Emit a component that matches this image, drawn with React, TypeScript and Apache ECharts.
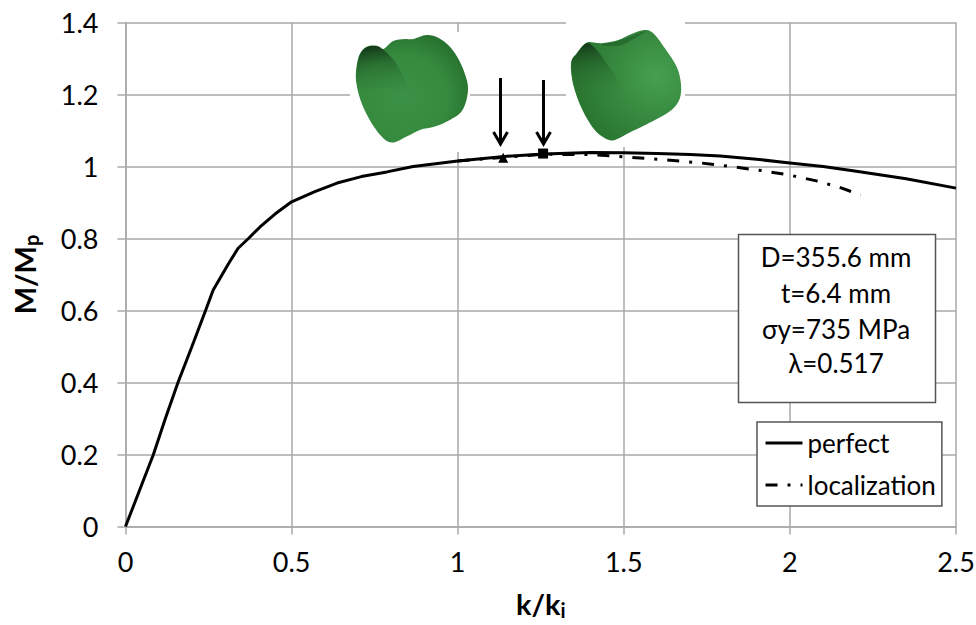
import React, { useEffect, useRef } from "react";
import * as echarts from "echarts";

const perfectX = [0, 0.04, 0.084, 0.12, 0.158, 0.2, 0.241, 0.264, 0.31, 0.339, 0.37, 0.405, 0.45, 0.5, 0.57, 0.637, 0.71, 0.787, 0.866, 1.0, 1.14, 1.26, 1.4, 1.5, 1.6, 1.7, 1.79, 1.9, 2.0, 2.1, 2.2, 2.35, 2.5];
const perfectY = [0, 0.095, 0.2, 0.3, 0.4, 0.5, 0.6, 0.657, 0.73, 0.773, 0.8, 0.832, 0.868, 0.902, 0.93, 0.954, 0.972, 0.985, 1.0, 1.015, 1.028, 1.035, 1.039, 1.038, 1.036, 1.033, 1.029, 1.02, 1.01, 1.0, 0.987, 0.966, 0.94];
const localizationX = [1.0, 1.14, 1.26, 1.4, 1.5, 1.62, 1.73, 1.83, 1.92, 2.0, 2.08, 2.15, 2.213];
const localizationY = [1.015, 1.026, 1.034, 1.033, 1.027, 1.019, 1.01, 0.999, 0.988, 0.976, 0.96, 0.942, 0.921];
const triangleMark = [1.137, 1.024];
const squareMark = [1.257, 1.036];
const infoLines = ["D=355.6 mm", "t=6.4 mm", "σy=735 MPa", "λ=0.517"];
const xTicks = { min: 0, max: 2.5, interval: 0.5 };
const yTicks = { min: 0, max: 1.4, interval: 0.2 };

const FONT = "Lato, Carlito, 'Open Sans', sans-serif";
const GRID_COLOR = "#a9a9a9";
const DASH = [12, 10, 3, 10];

function smooth(points: number[][]): string {
  const n = points.length;
  let d = `M${points[0][0]} ${points[0][1]}`;
  for (let i = 0; i < n; i++) {
    const p0 = points[(i - 1 + n) % n];
    const p1 = points[i];
    const p2 = points[(i + 1) % n];
    const p3 = points[(i + 2) % n];
    const c1x = p1[0] + (p2[0] - p0[0]) / 6;
    const c1y = p1[1] + (p2[1] - p0[1]) / 6;
    const c2x = p2[0] - (p3[0] - p1[0]) / 6;
    const c2y = p2[1] - (p3[1] - p1[1]) / 6;
    d += `C${c1x} ${c1y} ${c2x} ${c2y} ${p2[0]} ${p2[1]}`;
  }
  return d + "Z";
}

const leftBody = [[18, 140], [28, 90], [50, 65], [80, 62], [100, 72], [130, 48], [165, 42], [190, 42], [230, 30], [265, 38], [300, 65], [330, 110], [352, 170], [352, 215], [335, 260], [300, 285], [255, 305], [210, 315], [170, 335], [130, 353], [100, 340], [65, 295], [35, 235], [20, 180]];
const leftDark = [[20, 140], [29, 91], [50, 67], [80, 64], [100, 74], [135, 110], [165, 165], [180, 210], [110, 190], [60, 195], [25, 190]];
const rightBody = [[18, 130], [35, 100], [65, 68], [110, 70], [160, 60], [205, 40], [240, 30], [265, 40], [300, 85], [335, 140], [348, 190], [345, 235], [320, 270], [270, 300], [200, 335], [150, 360], [120, 355], [85, 325], [50, 265], [25, 195]];
const rightDark = [[20, 128], [36, 101], [65, 70], [90, 85], [125, 130], [165, 190], [185, 230], [110, 215], [60, 215], [28, 205]];
const rightFold = [[110, 72], [160, 62], [240, 33], [210, 55], [170, 75], [130, 78]];

echarts.graphic.registerShape("leftBody", echarts.graphic.extendPath(smooth(leftBody), {}));
echarts.graphic.registerShape("leftDark", echarts.graphic.extendPath(smooth(leftDark), {}));
echarts.graphic.registerShape("rightBody", echarts.graphic.extendPath(smooth(rightBody), {}));
echarts.graphic.registerShape("rightDark", echarts.graphic.extendPath(smooth(rightDark), {}));
echarts.graphic.registerShape("rightFold", echarts.graphic.extendPath(smooth(rightFold), {}));

const leftFill = {
  type: "radial", x: 0.42, y: 0.58, r: 0.62,
  colorStops: [
    { offset: 0, color: "#3b9145" },
    { offset: 0.65, color: "#358a3e" },
    { offset: 1, color: "#27722f" },
  ],
};
const rightFill = {
  type: "radial", x: 0.78, y: 0.42, r: 0.75,
  colorStops: [
    { offset: 0, color: "#46a050" },
    { offset: 0.5, color: "#378a3f" },
    { offset: 1, color: "#29752f" },
  ],
};
const darkFill = {
  type: "linear", x: 0.4, y: 0, x2: 0.5, y2: 1,
  colorStops: [
    { offset: 0, color: "rgba(18,50,22,0.9)" },
    { offset: 0.35, color: "rgba(30,85,36,0.5)" },
    { offset: 1, color: "rgba(47,124,55,0)" },
  ],
};
const foldFill = "rgba(30,90,38,0.55)";

function shell(type: string, x: number, y: number, fill: any) {
  return { type, x, y, scaleX: 1 / 3, scaleY: 1 / 3, z: 6, silent: true, style: { fill } };
}
function arrow(x: number, y0: number, y1: number) {
  const stroke = { stroke: "#000", lineWidth: 3, fill: "none" as const };
  return [
    { type: "line", z: 6, silent: true, shape: { x1: x, y1: y0, x2: x, y2: y1 }, style: stroke },
    { type: "polyline", z: 6, silent: true, shape: { points: [[x - 7, y1 - 12], [x, y1], [x + 7, y1 - 12]] }, style: stroke },
  ];
}

export default function App() {
  const ref = useRef<HTMLDivElement>(null);
  useEffect(() => {
    const chart = echarts.init(ref.current!, undefined, { renderer: "svg" });
    const axisCommon = {
      type: "value",
      nameLocation: "middle",
      axisLine: { show: true, onZero: false, lineStyle: { color: GRID_COLOR, width: 1.5 } },
      axisTick: { show: true, length: 8, lineStyle: { color: GRID_COLOR, width: 1.5 } },
      splitLine: { show: true, lineStyle: { color: GRID_COLOR, width: 1.5 } },
      axisLabel: { color: "#000", fontFamily: FONT, fontSize: 27 },
    };
    const nameRich = {
      a: { fontFamily: FONT, fontWeight: "bold", fontSize: 29, color: "#000", lineHeight: 36 },
      b: { fontFamily: FONT, fontWeight: "bold", fontSize: 20, color: "#000", lineHeight: 36, padding: [12, 0, 0, 0] },
    };
    chart.setOption({
      animation: false,
      backgroundColor: "#fff",
      grid: { left: 125.5, right: 20, top: 22.5, height: 504, containLabel: false, outerBoundsMode: "none" },
      xAxis: {
        ...axisCommon, ...xTicks, name: "{a|k/k}{b|i}", nameGap: 59,
        nameTextStyle: { rich: nameRich }, axisLabel: { ...axisCommon.axisLabel, margin: 21 },
      },
      yAxis: {
        ...axisCommon, ...yTicks, name: "{a|M/M}{b|p}", nameGap: 83,
        nameTextStyle: { rich: nameRich }, axisLabel: { ...axisCommon.axisLabel, margin: 27 },
      },
      legend: {
        left: 757, top: 422, orient: "vertical", padding: [8, 6, 8, 7],
        backgroundColor: "#fff", borderColor: "#555", borderWidth: 1.5, borderRadius: 0,
        itemWidth: 37, itemHeight: 14, itemGap: 16,
        itemStyle: { color: "transparent", borderColor: "transparent", borderWidth: 0 },
        lineStyle: { width: 3 },
        textStyle: { fontFamily: FONT, fontSize: 26, color: "#000", width: 131 },
        data: [{ name: "perfect" }, { name: "localization" }],
      },
      series: [
        {
          name: "localization", type: "line", symbol: "none", z: 2,
          lineStyle: { color: "#000", width: 3, type: DASH },
          itemStyle: { color: "#000" },
          data: localizationX.map((x, i) => [x, localizationY[i]]),
        },
        {
          name: "perfect", type: "line", symbol: "none", z: 3,
          lineStyle: { color: "#000", width: 3 },
          itemStyle: { color: "#000" },
          data: perfectX.map((x, i) => [x, perfectY[i]]),
        },
        {
          name: "onset A", type: "scatter", symbol: "triangle", symbolSize: 10, z: 4,
          itemStyle: { color: "#000", opacity: 1 }, data: [triangleMark],
        },
        {
          name: "onset B", type: "scatter", symbol: "rect", symbolSize: 10, z: 4,
          itemStyle: { color: "#000", opacity: 1 }, data: [squareMark],
        },
      ],
      graphic: {
        elements: [
          { type: "rect", z: 5, silent: true, shape: { x: 350, y: 32, width: 120, height: 120 }, style: { fill: "#fff" } },
          { type: "rect", z: 5, silent: true, shape: { x: 566, y: 15, width: 119, height: 132 }, style: { fill: "#fff" } },
          shell("leftBody", 350, 25, leftFill),
          shell("leftDark", 350, 25, darkFill),
          shell("rightBody", 565, 20, rightFill),
          shell("rightDark", 565, 20, darkFill),
          shell("rightFold", 565, 20, foldFill),
          ...arrow(500.5, 78, 144),
          ...arrow(543.5, 80, 144),
          { type: "rect", z: 5, silent: true, shape: { x: 738.5, y: 234.5, width: 197, height: 168 }, style: { fill: "#fff", stroke: "#555", lineWidth: 1.5 } },
          ...infoLines.map((text, i) => ({
            type: "text", z: 6, silent: true, x: 836, y: [257, 293, 329, 363][i],
            style: { text, fill: "#000", font: `26px ${FONT}`, textAlign: "center", textVerticalAlign: "middle" },
          })),
        ],
      },
    });
    return () => chart.dispose();
  }, []);
  return <div ref={ref} style={{ position: "absolute", left: 0, top: 0, width: 976, height: 625 }} />;
}
